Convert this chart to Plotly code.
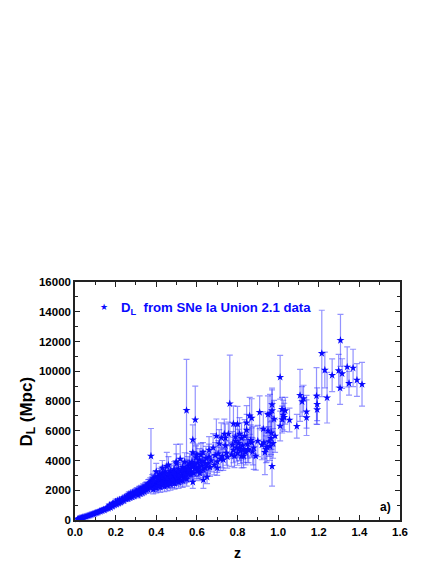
import plotly.graph_objects as go

# split by redshift range so it stays checkable
z_low = [0.012, 0.016, 0.02, 0.024, 0.028, 0.032, 0.036, 0.04, 0.045, 0.05, 0.055, 0.06, 0.065, 0.07, 0.075, 0.08,
         0.085, 0.09, 0.095, 0.1, 0.105, 0.11, 0.115, 0.12, 0.125, 0.13, 0.135, 0.14, 0.145, 0.15, 0.155, 0.16,
         0.165, 0.17, 0.175, 0.18, 0.185, 0.19, 0.195, 0.2, 0.205, 0.21, 0.215, 0.22, 0.225, 0.23, 0.235, 0.24,
         0.245, 0.25, 0.255, 0.26, 0.265, 0.27, 0.275, 0.28, 0.285, 0.29, 0.295, 0.3, 0.305, 0.31, 0.315, 0.32,
         0.325, 0.33, 0.335, 0.34, 0.345, 0.35]
dl_low = [55, 70, 90, 110, 120, 145, 165, 175, 200, 225, 240, 270, 285, 320, 335, 360,
          390, 400, 435, 470, 480, 510, 530, 590, 585, 630, 640, 700, 670, 740, 760, 800,
          790, 900, 830, 1010, 920, 1090, 1000, 1230, 1060, 1290, 1120, 1360, 1190, 1270, 1410, 1300,
          1480, 1400, 1560, 1440, 1700, 1510, 1760, 1560, 1830, 1620, 1850, 1750, 1950, 1680, 2030, 1790,
          2100, 1860, 2180, 1930, 2240, 2020]
err_low = [8, 10, 12, 14, 15, 18, 20, 20, 22, 25, 25, 28, 30, 35, 35, 35,
           40, 40, 45, 50, 50, 55, 55, 70, 60, 70, 70, 80, 70, 85, 85, 90,
           85, 110, 90, 180, 100, 130, 110, 170, 120, 150, 120, 170, 130, 140, 160, 150,
           170, 150, 180, 170, 190, 170, 190, 180, 200, 180, 210, 190, 220, 190, 230, 200,
           230, 220, 250, 220, 260, 230]

z_mid = [0.355, 0.36, 0.365, 0.37, 0.374, 0.378, 0.382, 0.386, 0.39, 0.394, 0.398, 0.4, 0.404, 0.408, 0.412, 0.416,
         0.42, 0.424, 0.428, 0.432, 0.436, 0.44, 0.444, 0.448, 0.452, 0.456, 0.46, 0.464, 0.468, 0.472, 0.476, 0.48,
         0.484, 0.488, 0.492, 0.498, 0.5, 0.504, 0.508, 0.512, 0.518, 0.522, 0.526, 0.53, 0.534, 0.538, 0.542, 0.549,
         0.552, 0.556, 0.56, 0.564, 0.568, 0.572, 0.576, 0.58, 0.58, 0.58, 0.585, 0.59, 0.592, 0.596, 0.6, 0.604,
         0.608, 0.612, 0.62, 0.625, 0.63, 0.632, 0.64, 0.645, 0.65, 0.655, 0.66, 0.665, 0.67, 0.68, 0.685, 0.69,
         0.696, 0.7, 0.705, 0.71, 0.715, 0.72, 0.725, 0.73, 0.735, 0.74, 0.745, 0.75, 0.755, 0.762]
dl_mid = [2300, 2050, 2450, 2180, 4300, 2600, 2280, 2780, 2350, 2900, 2480, 3250, 2560, 2950, 2430, 3100,
          2690, 3050, 2600, 3180, 2440, 2800, 3260, 2700, 3610, 2950, 2620, 3150, 2780, 3300, 2540, 3050,
          2850, 3400, 2700, 3920, 3100, 2900, 3450, 2820, 4100, 3250, 3000, 3550, 3180, 3350, 2950, 7370,
          3300, 3650, 3100, 3800, 3450, 3250, 3900, 5400, 4530, 2550, 3700, 3500, 6740, 4200, 3480, 3850,
          3300, 4050, 4370, 3650, 3950, 2690, 3500, 4150, 2890, 3800, 4250, 3550, 4000, 4860, 3700, 4350,
          5650, 3920, 4450, 5130, 4100, 5530, 4300, 4050, 5780, 5510, 4500, 4250, 5780, 7820]
err_mid = [250, 230, 280, 240, 1850, 300, 260, 320, 280, 340, 300, 560, 300, 360, 280, 380,
           320, 390, 310, 420, 300, 350, 430, 340, 940, 400, 350, 430, 380, 470, 360, 430,
           400, 520, 380, 1170, 450, 420, 560, 420, 1000, 500, 450, 600, 480, 520, 450, 3430,
           520, 620, 480, 680, 560, 500, 720, 1000, 650, 430, 650, 580, 2260, 780, 560, 680,
           540, 750, 800, 620, 720, 560, 600, 800, 450, 680, 850, 620, 760, 950, 660, 860,
           1140, 720, 880, 950, 780, 1000, 800, 720, 1000, 950, 820, 760, 800, 3270]

# extra points where the band is too dense to separate by eye
z_band = [0.17, 0.185, 0.2, 0.215, 0.23, 0.245, 0.26, 0.27, 0.285, 0.3, 0.31, 0.32, 0.33, 0.34, 0.35, 0.36,
          0.37, 0.375, 0.38, 0.385, 0.39, 0.395, 0.405, 0.41, 0.415, 0.42, 0.43, 0.435, 0.44, 0.45, 0.455, 0.46,
          0.465, 0.47, 0.48, 0.485, 0.49, 0.495, 0.505, 0.51, 0.515, 0.52, 0.53, 0.535, 0.54, 0.545, 0.55, 0.555,
          0.56, 0.57, 0.575, 0.585, 0.59, 0.6, 0.61, 0.615, 0.62, 0.63, 0.64, 0.65,
          0.385, 0.4, 0.42, 0.44, 0.455, 0.47, 0.49, 0.51, 0.53, 0.55, 0.43, 0.46, 0.5, 0.54, 0.6,
          0.63, 0.66, 0.7, 0.74, 0.79, 0.81, 0.83, 0.85, 0.87, 0.89]
dl_band = [1000, 1080, 1120, 1230, 1380, 1500, 1620, 1680, 1760, 1900, 1850, 2020, 1980, 2120, 2280, 2420,
           2520, 2350, 2700, 2480, 2620, 2200, 2750, 2250, 2850, 2400, 2900, 2520, 3050, 2480, 2800, 3080,
           2500, 2920, 2700, 3200, 2500, 3000, 2750, 3250, 2900, 2650, 3350, 2850, 3100, 3450, 3000, 3500,
           3350, 3050, 3600, 3150, 3750, 3300, 3550, 3150, 3850, 3400, 3800, 3600,
           2050, 2150, 2200, 2250, 2330, 2400, 2450, 2550, 2650, 2750, 3500, 3700, 3800, 3900, 4400,
           4550, 4700, 3500, 5000, 5600, 4850, 4300, 4750, 5200, 4300]
err_band = [90, 110, 130, 140, 150, 170, 180, 190, 200, 220, 210, 240, 230, 260, 270, 300,
            320, 290, 350, 310, 340, 270, 360, 290, 380, 310, 390, 330, 420, 330, 380, 430,
            340, 400, 370, 460, 350, 430, 390, 470, 420, 380, 500, 420, 460, 520, 450, 550,
            500, 460, 570, 490, 600, 520, 560, 500, 620, 540, 610, 580,
            290, 320, 340, 350, 380, 400, 380, 420, 450, 470, 500, 560, 650, 620, 700,
            650, 900, 500, 800, 950, 850, 780, 900, 1000, 950]

z_high = [0.77, 0.775, 0.78, 0.78, 0.785, 0.79, 0.795, 0.8, 0.8, 0.805, 0.81, 0.815, 0.82, 0.82, 0.825, 0.83,
          0.835, 0.84, 0.845, 0.845, 0.85, 0.855, 0.86, 0.865, 0.87, 0.875, 0.88, 0.9, 0.909, 0.92, 0.927, 0.93,
          0.935, 0.94, 0.945, 0.95, 0.95, 0.955, 0.96, 0.96, 0.965, 0.967, 0.97, 0.97, 0.97, 0.975, 0.98, 0.985,
          1.01, 1.01, 1.019, 1.02, 1.025, 1.03, 1.035, 1.056, 1.092, 1.108, 1.118, 1.125, 1.14, 1.14, 1.189, 1.192,
          1.192, 1.215, 1.23, 1.241, 1.266, 1.298, 1.305, 1.307, 1.315, 1.34, 1.349, 1.369, 1.388, 1.413]
dl_high = [4400, 5050, 4700, 6470, 4300, 5300, 4850, 6440, 4500, 5150, 5780, 4650, 5500, 4300, 5000, 4750,
           5650, 4550, 6540, 6050, 5100, 4700, 7000, 5350, 6850, 4600, 4850, 5310, 7240, 5050, 6120, 5200,
           4550, 4750, 4900, 6000, 7100, 5280, 7150, 4950, 5500, 5850, 3610, 7350, 7760, 5150, 6790, 5650,
           9600, 6320, 7440, 6750, 7050, 6900, 7350, 6720, 6300, 8380, 7960, 8160, 7280, 6880, 8340, 7780,
           7420, 11200, 10080, 8220, 9730, 10040, 8870, 12080, 9840, 10290, 9190, 10220, 9410, 9120]
err_high = [800, 900, 850, 1200, 780, 1000, 900, 1200, 820, 950, 1100, 850, 1050, 800, 900, 880,
            1100, 850, 1150, 1050, 950, 850, 1250, 1050, 1300, 900, 1450, 1050, 1100, 1000, 1150, 1050,
            1500, 900, 1000, 1100, 1250, 1000, 1300, 950, 1100, 1100, 1330, 1400, 1100, 1000, 1250, 1100,
            1470, 1000, 800, 900, 1000, 950, 900, 800, 800, 1750, 1000, 900, 1100, 1200, 1900, 1100,
            1000, 2900, 1200, 1700, 1100, 1100, 1100, 1750, 1000, 1350, 800, 1260, 1100, 1470]

z_vals = z_low + z_mid + z_band + z_high
dl_vals = dl_low + dl_mid + dl_band + dl_high
dl_errs = err_low + err_mid + err_band + err_high

x_ticks = [0.0, 0.2, 0.4, 0.6, 0.8, 1.0, 1.2, 1.4, 1.6]
y_ticks = [0, 2000, 4000, 6000, 8000, 10000, 12000, 14000, 16000]

FONT = "Liberation Sans"
BLUE = "#0a0aff"

fig = go.Figure()
fig.add_trace(go.Scatter(
    x=z_vals,
    y=dl_vals,
    error_y=dict(type="data", array=dl_errs, color="rgba(40,40,255,0.5)", thickness=1.2, width=3),
    mode="markers",
    marker=dict(symbol="star", size=6, color=BLUE),
    cliponaxis=False,
    showlegend=False))

axis = dict(
    showgrid=False, zeroline=False, showline=True, linecolor="#222", linewidth=1.5,
    mirror="ticks", ticks="inside", ticklen=5, tickwidth=1.2, tickcolor="#222",
    tickfont=dict(family=FONT, size=11.5, color="black", weight="bold"))

fig.update_xaxes(axis, range=[0, 1.6], tickvals=x_ticks, tickformat=".1f",
                 minor=dict(dtick=0.1, ticks="inside", ticklen=3, tickwidth=1, tickcolor="#222"))
fig.update_yaxes(axis, range=[0, 16000], tickvals=y_ticks, tickformat="d",
                 minor=dict(dtick=1000, ticks="inside", ticklen=3, tickwidth=1, tickcolor="#222"))

fig.update_layout(
    width=425, height=555,
    margin=dict(l=66.5, r=33, t=274, b=43),
    paper_bgcolor="white", plot_bgcolor="white",
    annotations=[
        dict(text="z", xref="paper", yref="paper", x=0.5, y=-0.137, showarrow=False,
             xanchor="center", yanchor="middle",
             font=dict(family=FONT, size=14, color="black", weight="bold")),
        dict(text="D<sub>L</sub> (Mpc)", xref="paper", yref="paper", x=-0.146, y=0.454, showarrow=False,
             xanchor="center", yanchor="middle", textangle=-90,
             font=dict(family=FONT, size=17, color="black", weight="bold")),
        dict(text="a)", xref="x", yref="y", x=1.53, y=850, showarrow=False,
             font=dict(family=FONT, size=12, color="black", weight="bold")),
        dict(text="★", xref="x", yref="y", x=0.145, y=14350, showarrow=False,
             font=dict(family="DejaVu Sans", size=9, color=BLUE)),
        dict(text="D<sub>L</sub>  from SNe Ia Union 2.1 data", xref="x", yref="y", x=0.215, y=14250,
             xanchor="left", yanchor="middle", showarrow=False,
             font=dict(family=FONT, size=13.2, color=BLUE, weight="bold")),
    ])

fig.write_html("out.html")
